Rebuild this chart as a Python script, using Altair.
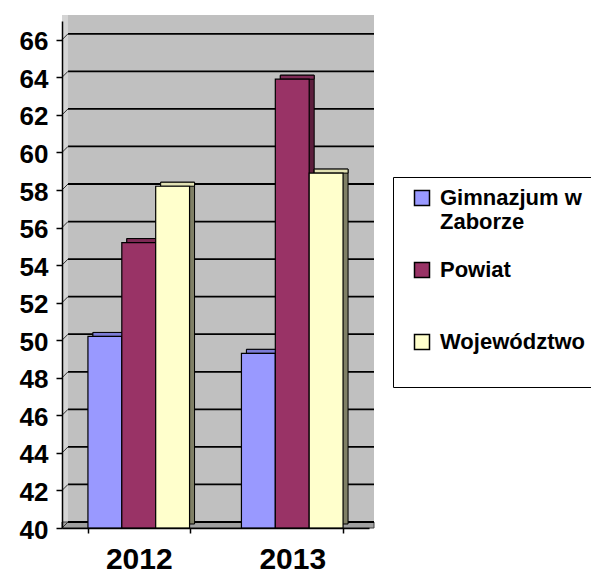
import altair as alt
import pandas as pd

# ---- data ----
years = ["2012", "2013"]
series = ["Gimnazjum w Zaborze", "Powiat", "Województwo"]
values_2012 = [50.2, 55.2, 58.2]
values_2013 = [49.3, 63.9, 58.9]
y_ticks = list(range(40, 67, 2))

front_colors = ["#9999FF", "#993366", "#FFFFCC"]
top_colors = ["#7C7CD6", "#7E2A55", "#E2E2B4"]
side_colors = ["#4D4D80", "#5C1F3D", "#808066"]

rows = []
for yr, vals in zip(years, [values_2012, values_2013]):
    for s, v in zip(series, vals):
        rows.append({"year": yr, "series": s, "value": v})
df = pd.DataFrame(rows)

# ---- layout / style ----
Y_MIN, Y_MAX = 40, 67
W, H = 307, 507
PI, PO = 0.338, 0.169
STEP = W / (len(years) - PI + 2 * PO)
GROUP_W = STEP * (1 - PI)
DX, DY = 5, -4      # bar depth
WX, WY = 6, -6      # wall depth
FONT = "Liberation Sans"

yscale = alt.Scale(domain=[Y_MIN, Y_MAX], nice=False, zero=False)
xscale = alt.Scale(domain=years, paddingInner=PI, paddingOuter=PO)

yaxis = alt.Axis(values=y_ticks, title=None, grid=False, labelFontSize=26,
                 labelFontWeight="bold", labelColor="black", labelFont=FONT,
                 tickSize=6, tickColor="black", tickWidth=1.5,
                 domainColor="black", domainWidth=1.5, labelPadding=8,
                 labelOffset=2, zindex=1)
xaxis = alt.Axis(title=None, labelAngle=0, labelFontSize=30, labelFontWeight="bold",
                 labelColor="black", labelFont=FONT, tickBand="extent", tickSize=5,
                 tickColor="black", tickWidth=1.5, domainColor="black",
                 domainWidth=1.5, labelPadding=11, zindex=1)

wall_df = pd.DataFrame({"lo": [Y_MIN], "hi": [Y_MAX]})
tick_df = pd.DataFrame({"t": y_ticks})

# back wall
wall = alt.Chart(wall_df).mark_rect(
    color="#C0C0C0", xOffset=WX, x2Offset=WX - 1, yOffset=WY, y2Offset=WY
).encode(
    x=alt.value(0), x2=alt.value(W),
    y=alt.Y("lo:Q", scale=yscale, axis=yaxis), y2="hi:Q",
)
# left side wall
side_wall = alt.Chart(wall_df).mark_rect(
    color="#D4D4D4", y2Offset=WY
).encode(
    x=alt.value(0), x2=alt.value(WX),
    y=alt.Y("lo:Q", scale=yscale, axis=yaxis), y2="hi:Q",
)
# floor
floor = alt.Chart(wall_df).mark_rect(
    color="#A0A0A0", stroke="#404040", strokeWidth=1, y2Offset=WY, x2Offset=WX - 1
).encode(
    x=alt.value(0), x2=alt.value(W),
    y=alt.Y("lo:Q", scale=yscale, axis=yaxis), y2="lo:Q",
)
# gridlines on back wall
grid = alt.Chart(tick_df).mark_rule(
    color="black", strokeWidth=1.8, xOffset=WX, x2Offset=WX - 1, yOffset=WY
).encode(
    x=alt.value(0), x2=alt.value(W),
    y=alt.Y("t:Q", scale=yscale, axis=yaxis),
)
# gridlines on side wall
grid_side = alt.Chart(tick_df).mark_rule(
    color="#303030", strokeWidth=1, y2Offset=WY
).encode(
    x=alt.value(0), x2=alt.value(WX),
    y=alt.Y("t:Q", scale=yscale, axis=yaxis), y2="t:Q",
)

shifted_off = alt.XOffset("series:N", sort=series,
                          scale=alt.Scale(domain=series, range=[DX, GROUP_W + DX],
                                          paddingInner=0, paddingOuter=0))
front_off = alt.XOffset("series:N", sort=series,
                        scale=alt.Scale(domain=series, range=[0, GROUP_W],
                                        paddingInner=0, paddingOuter=0))
xenc = alt.X("year:N", scale=xscale, axis=xaxis, sort=years)

# side faces (whole shifted bar)
side = alt.Chart(df).mark_bar(
    stroke="black", strokeWidth=1, yOffset=DY, y2Offset=DY
).encode(
    x=xenc, xOffset=shifted_off,
    y=alt.Y("value:Q", scale=yscale, axis=yaxis), y2=alt.Y2(datum=Y_MIN),
    color=alt.Color("series:N", scale=alt.Scale(domain=series, range=side_colors), legend=None),
)
# top faces
top = alt.Chart(df).mark_bar(
    stroke="black", strokeWidth=1, yOffset=DY
).encode(
    x=xenc, xOffset=shifted_off,
    y=alt.Y("value:Q", scale=yscale, axis=yaxis), y2="value:Q",
    color=alt.Color("series:N", scale=alt.Scale(domain=series, range=top_colors), legend=None),
)
# front faces
legend = alt.Legend(
    orient="none", legendX=331, legendY=156, title=None, padding=10,
    symbolOffset=8, symbolSize=225, symbolType="square",
    symbolStrokeColor="black", symbolStrokeWidth=1.5,
    labelFontSize=22, labelFont=FONT, labelFontWeight="bold", labelColor="black",
    labelOffset=7, labelLimit=400, rowPadding=26, gridAlign="all",
    strokeColor="black", fillColor="white",
    labelExpr="datum.label == 'Gimnazjum w Zaborze' ? ['Gimnazjum w', 'Zaborze'] : "
              "(datum.label == 'Województwo' ? ['Województwo', ''] : datum.label)",
)
front = alt.Chart(df).mark_bar(stroke="black", strokeWidth=1.2).encode(
    x=xenc, xOffset=front_off,
    y=alt.Y("value:Q", scale=yscale, axis=yaxis), y2=alt.Y2(datum=Y_MIN),
    color=alt.Color("series:N", sort=series,
                    scale=alt.Scale(domain=series, range=front_colors), legend=legend),
)

chart = alt.layer(wall, side_wall, floor, grid, grid_side, side, top, front).resolve_scale(
    xOffset="independent", color="independent"
).properties(
    width=W, height=H,
    autosize=alt.AutoSizeParams(type="none"),
    padding={"left": 54, "top": 13, "right": 222, "bottom": 45},
    background="white",
).configure_view(stroke=None).configure_legend(strokeWidth=2).configure(font=FONT)

chart.save("out.html", embed_options={"renderer": "svg", "actions": False})
